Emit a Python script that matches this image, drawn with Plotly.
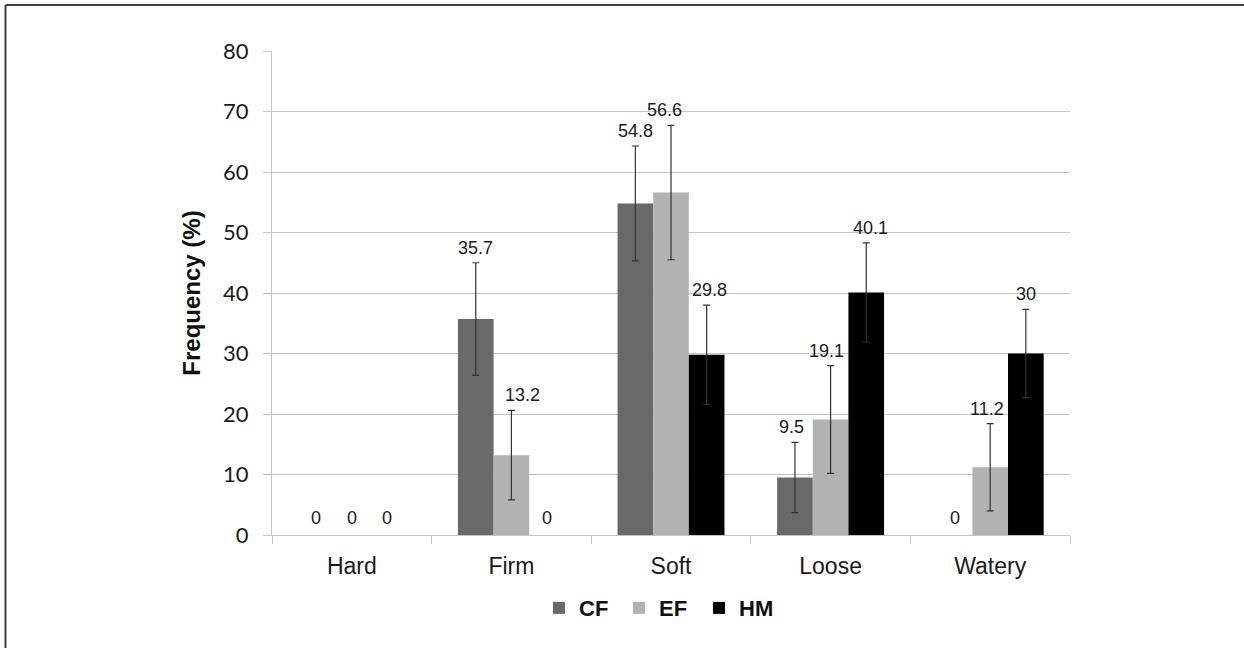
import plotly.graph_objects as go

categories = ["Hard", "Firm", "Soft", "Loose", "Watery"]
series_names = ["CF", "EF", "HM"]
cf_values = [0, 35.7, 54.8, 9.5, 0]
ef_values = [0, 13.2, 56.6, 19.1, 11.2]
hm_values = [0, 0, 29.8, 40.1, 30]
cf_errors = [0, 9.3, 9.5, 5.8, 0]
ef_errors = [0, 7.4, 11.1, 8.9, 7.2]
hm_errors = [0, 0, 8.2, 8.2, 7.3]
y_ticks = [0, 10, 20, 30, 40, 50, 60, 70, 80]

colors = ["#696969", "#b2b2b2", "#000000"]
values = [cf_values, ef_values, hm_values]
errors = [cf_errors, ef_errors, hm_errors]

# layout geometry (px)
W, H = 1244, 648
L, R, T, B = 272, 174, 51, 113
plot_w = W - L - R
plot_h = H - T - B
cat_w = plot_w / len(categories)
bargap = 0.33
bar_w = cat_w * (1 - bargap) / 3

fig = go.Figure()
for name, vals, errs, col in zip(series_names, values, errors, colors):
    fig.add_trace(go.Bar(
        name=name, x=categories, y=[v if v > 0 else None for v in vals],
        marker=dict(color=col, line=dict(width=0)),
        error_y=dict(type="data", array=[e if e > 0 else None for e in errs], visible=True,
                     color="#333333", thickness=1.2, width=3.5),
    ))

# label nudges in px (x) to mimic the reference placement
nudge = {
    (1, 3): -4, (1, 2): -7, (1, 1): 11, (2, 2): 3, (2, 3): 4, (0, 3): -3, (1, 4): -3,
}
annotations = []
for si, (vals, errs) in enumerate(zip(values, errors)):
    for ci, (v, e) in enumerate(zip(vals, errs)):
        top = v + e
        annotations.append(dict(
            x=categories[ci], y=top, xref="x", yref="y",
            text=str(v) if v != int(v) else str(int(v)),
            showarrow=False, yanchor="middle", xanchor="center",
            xshift=(si - 1) * bar_w + nudge.get((si, ci), 0),
            yshift=15 if e > 0 else 17,
            font=dict(family="Liberation Sans, Arial, sans-serif", size=18, color="#1a1a1a"),
        ))

grid_col = "#c4c4c4"
fig.update_layout(
    width=W, height=H,
    margin=dict(l=L, r=R, t=T, b=B, autoexpand=False),
    paper_bgcolor="white", plot_bgcolor="white",
    barmode="group", bargap=bargap, bargroupgap=0,
    showlegend=True,
    legend=dict(orientation="h", x=0.485, xanchor="center", y=-0.151, yanchor="middle",
                font=dict(family="Liberation Sans, Arial, sans-serif", size=22, color="#111111", weight="bold"),
                traceorder="normal", itemwidth=30, entrywidth=35, entrywidthmode="pixels"),
    annotations=annotations,
    xaxis=dict(
        type="category", tickson="boundaries", ticks="outside", ticklen=8,
        tickcolor=grid_col, tickwidth=1.3, showgrid=False,
        showline=True, linecolor=grid_col, linewidth=1.3,
        tickfont=dict(family="Liberation Sans, Arial, sans-serif", size=23, color="#1a1a1a"),
        ticklabelstandoff=10,
    ),
    yaxis=dict(
        range=[0, 80], tickvals=y_ticks, ticks="outside", ticklen=8,
        tickcolor=grid_col, tickwidth=1.3,
        showgrid=True, gridcolor=grid_col, gridwidth=1.3,
        showline=True, linecolor=grid_col, linewidth=1.3, zeroline=False,
        tickfont=dict(family="Lato, sans-serif", size=22, color="#1a1a1a"),
        ticklabelstandoff=10,
        title=dict(text="Frequency (%)", standoff=15,
                   font=dict(family="Liberation Sans, Arial, sans-serif", size=24, color="#111111", weight="bold")),
    ),
    shapes=[
        dict(type="line", xref="paper", yref="paper",
             x0=(5.5 - L) / plot_w, x1=(W + 5 - L) / plot_w,
             y0=(H - B - 5) / plot_h, y1=(H - B - 5) / plot_h,
             line=dict(color="#404040", width=2)),
        dict(type="line", xref="paper", yref="paper",
             x0=(5.5 - L) / plot_w, x1=(5.5 - L) / plot_w,
             y0=(H - B - 5) / plot_h, y1=(H - B - H - 5) / plot_h,
             line=dict(color="#404040", width=2)),
    ],
)

fig.write_html("out.html", config={"displayModeBar": False},
               post_script="document.body.style.margin='0px';")
